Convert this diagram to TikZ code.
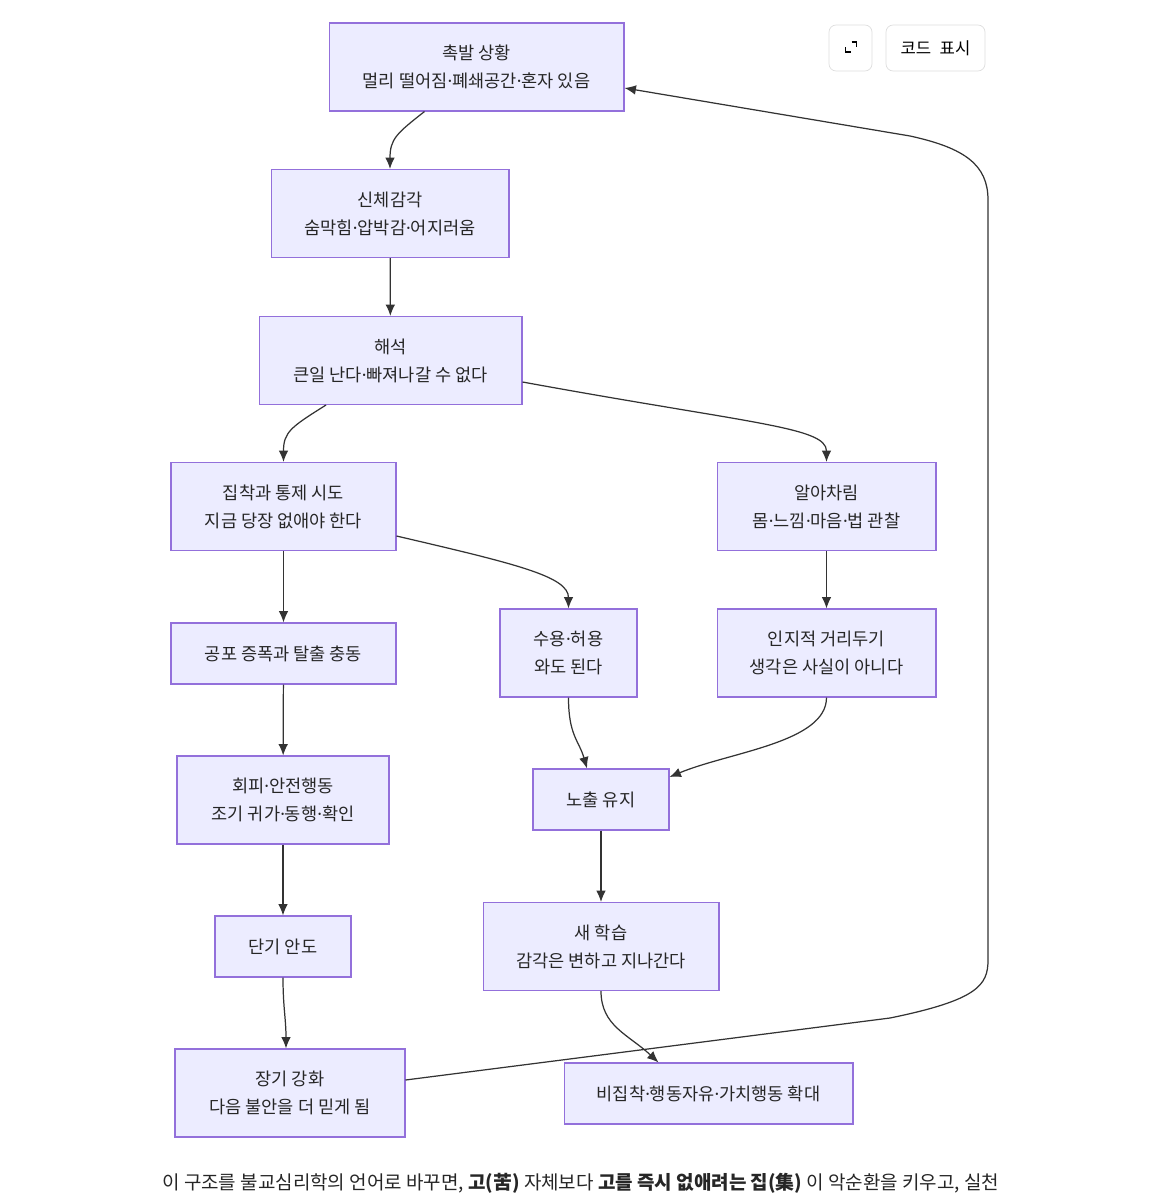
\documentclass[tikz,border=0pt]{standalone}
\usepackage{fontspec}
\setmainfont{Noto Sans CJK KR}
\newfontfamily\dotfont{Noto Sans}
\newcommand\mdot{{\dotfont ·}}
\usetikzlibrary{arrows.meta,calc}
\definecolor{nodefill}{HTML}{ECECFF}
\definecolor{nodeline}{HTML}{9370DB}
\definecolor{edgeline}{HTML}{333333}
\tikzstyle{block} = [draw=nodeline, fill=nodefill, rectangle, line width=0.6pt,
    align=center, inner sep=0pt, text=black!85,
    minimum height=1.76cm, font=\fontsize{10}{16}\selectfont]
\tikzstyle{lowblock} = [block, minimum height=1.22cm]
\tikzstyle{flow} = [->, draw=edgeline, line width=0.7pt]
\tikzstyle{btn} = [draw=black!13, fill=white, rounded corners=4pt, inner sep=0pt,
    minimum height=0.92cm, font=\fontsize{9.5}{11}\selectfont]

\begin{document}
\begin{tikzpicture}[x=0.02cm, y=-0.02cm, >={Latex[length=6.5pt,width=5.5pt]}]
    \useasboundingbox (0,0) rectangle (1153,1200);
    \node [block, minimum width=5.9cm] (trigger) at (476.5,67) {촉발 상황\\멀리 떨어짐\mdot 폐쇄공간\mdot 혼자 있음};
    \node [block, minimum width=4.76cm] (sensation) at (390,213.5) {신체감각\\숨막힘\mdot 압박감\mdot 어지러움};
    \node [block, minimum width=5.26cm] (interp) at (390.5,360.5) {해석\\큰일 난다\mdot 빠져나갈 수 없다};
    \node [block, minimum width=4.5cm] (grasp) at (283.5,506.5) {집착과 통제 시도\\지금 당장 없애야 한다};
    \node [block, minimum width=4.38cm] (aware) at (826.5,506.5) {알아차림\\몸\mdot 느낌\mdot 마음\mdot 법 관찰};
    \node [lowblock, minimum width=4.5cm] (fear) at (283.5,653.5) {공포 증폭과 탈출 충동};
    \node [block, minimum width=2.74cm] (accept) at (568.5,653) {수용\mdot 허용\\와도 된다};
    \node [block, minimum width=4.38cm] (defuse) at (826.5,653) {인지적 거리두기\\생각은 사실이 아니다};
    \node [block, minimum width=4.24cm] (avoid) at (283,800) {회피\mdot 안전행동\\조기 귀가\mdot 동행\mdot 확인};
    \node [lowblock, minimum width=2.72cm] (expose) at (601,799.5) {노출 유지};
    \node [lowblock, minimum width=2.72cm] (relief) at (283,946.5) {단기 안도};
    \node [block, minimum width=4.72cm] (learn) at (601,946.5) {새 학습\\감각은 변하고 지나간다};
    \node [block, minimum width=4.6cm] (reinforce) at (290,1093) {장기 강화\\다음 불안을 더 믿게 됨};
    \node [lowblock, minimum width=5.78cm] (freedom) at (708.5,1093.5) {비집착\mdot 행동자유\mdot 가치행동 확대};

    \draw [flow] ($(trigger.south)+(-52,0)$) .. controls +(-28,22) and +(0,-30) .. (sensation.north);
    \draw [flow] (sensation) -- (interp);
    \draw [flow] ($(interp.south)+(-64.5,0)$) .. controls +(-35,22) and +(0,-30) .. (grasp.north);
    \draw [flow] ($(interp.east)+(0,21.5)$) .. controls +(230,42) and +(0,-35) .. (aware.north);
    \draw [flow] (grasp) -- (fear);
    \draw [flow] ($(grasp.east)+(0,29.5)$) .. controls +(120,28) and +(0,-32) .. (accept.north);
    \draw [flow] (aware) -- (defuse);
    \draw [flow] (fear) -- (avoid);
    \draw [flow] (accept.south) .. controls +(0,38) and +(-8,-28) .. ($(expose.north)+(-14,0)$);
    \draw [flow] (defuse.south) .. controls +(0,45) and +(60,-25) .. ($(expose.east)+(0,-22.5)$);
    \draw [flow] (avoid) -- (relief);
    \draw [flow] (expose) -- (learn);
    \draw [flow] (relief.south) .. controls +(0,30) and +(0,-30) .. ($(reinforce.north)+(-4,0)$);
    \draw [flow] (learn.south) .. controls +(0,35) and +(-30,-28) .. ($(freedom.north)+(-50,0)$);
    \draw [flow] ($(reinforce.east)+(0,-13)$) -- (890,1018)
        .. controls (978,1000) and (988,985) .. (988,960) -- (988,200)
        .. controls (988,165) and (965,148) .. (910,136) -- ($(trigger.east)+(0,21)$);

    \node [btn, minimum width=0.86cm] (expand) at (850.5,48) {};
    \node [btn, minimum width=1.98cm] (showcode) at (935.5,48) {코드\enspace 표시};
    \draw [line width=0.9pt] ($(expand)+(-5,-1)$) |- ($(expand)+(0,4)$);
    \draw [line width=0.9pt] ($(expand)+(1,-6)$) -| ($(expand)+(6,-1)$);

    \node [anchor=west, inner sep=0pt, text=black!85, font=\fontsize{10.8}{13}\selectfont] (caption) at (162,1183)
        {이 구조를 불교심리학의 언어로 바꾸면, \textbf{고(苦)} 자체보다 \textbf{고를 즉시 없애려는 집(集)} 이 악순환을 키우고, 실천};
\end{tikzpicture}
\end{document}
